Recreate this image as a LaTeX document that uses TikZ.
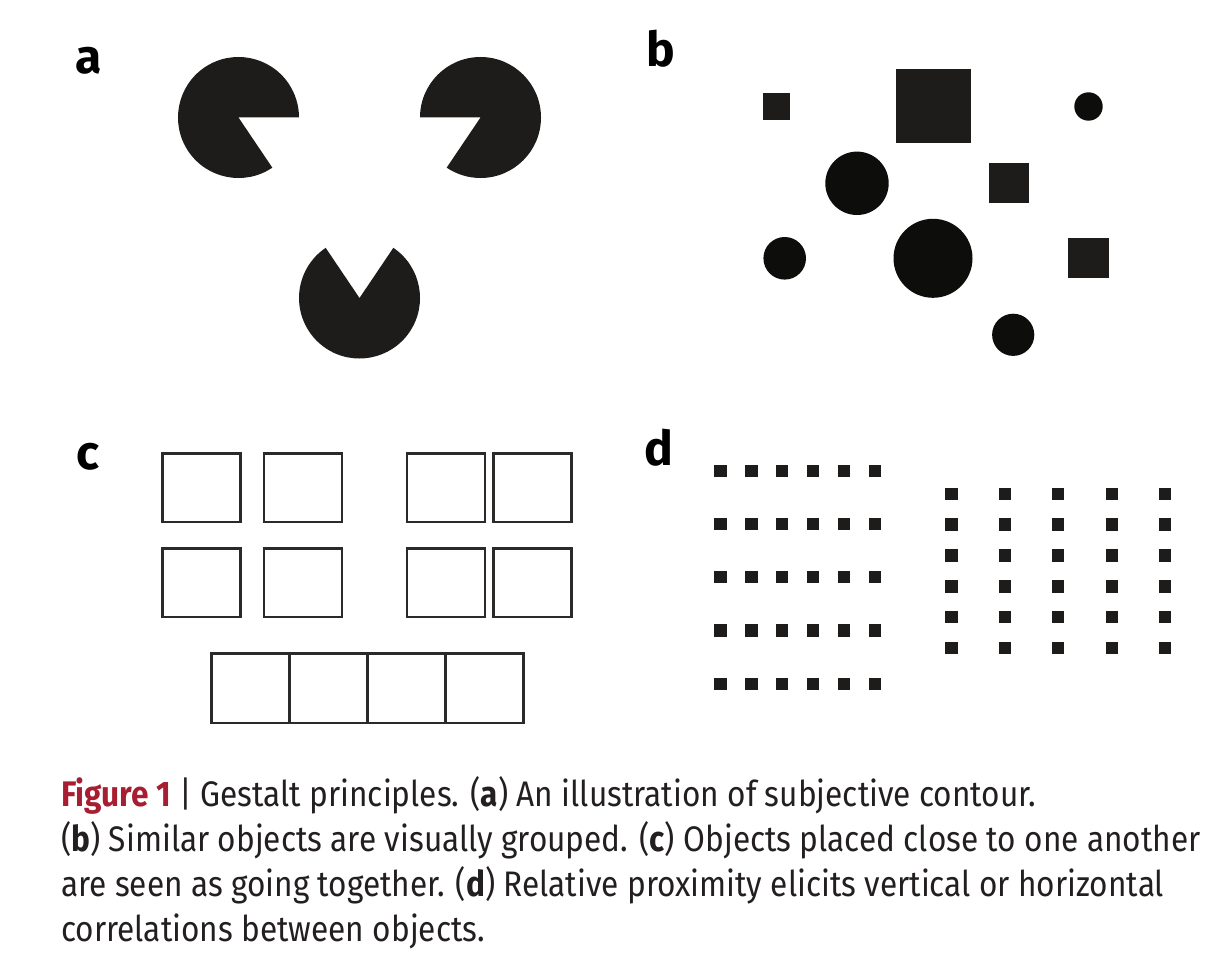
\documentclass[tikz,border=0pt]{standalone}
\usepackage{fontspec}
\setmainfont{Fira Sans}
\newfontfamily\capfont{Fira Sans}[FakeStretch=0.89]

\definecolor{ink}{HTML}{1D1C1A}
\definecolor{dotink}{HTML}{0D0E0B}
\definecolor{boxline}{HTML}{2B2A28}
\definecolor{figred}{HTML}{A71D31}
\definecolor{captext}{HTML}{231F20}

\tikzset{
  panel/.style={font=\bfseries\fontsize{48}{48}\selectfont, anchor=base west, inner sep=0pt},
  caption/.style={font=\capfont\fontsize{35.5}{45}\selectfont, text=captext, anchor=base west, inner sep=0pt},
  box/.style={draw=boxline, line width=2.6pt},
  blob/.style={fill=dotink},
  block/.style={fill=ink},
}

\begin{document}
\begin{tikzpicture}[x=1pt, y=-1pt, line join=miter]
  \useasboundingbox (0,0) rectangle (1220,979);
  \node[panel] (a) at (75,74) {a};
  \node[panel] (b) at (646,67) {b};
  \node[panel] (c) at (76,469) {c};
  \node[panel] (d) at (644,465) {d};

  \coordinate (left) at (238.5,117.5);
  \coordinate (right) at (480.5,117.5);
  \coordinate (bottom) at (359.5,298);
  \fill[block] (left) -- ++(56:60.5) arc[start angle=56, end angle=360, radius=60.5] -- cycle;
  \fill[block] (right) -- ++(180:60.5) arc[start angle=180, end angle=484, radius=60.5] -- cycle;
  \fill[block] (bottom) -- ++(304:60.5) arc[start angle=304, end angle=596, radius=60.5] -- cycle;

  \fill[block] (763.3,93.3) rectangle (790.3,120);
  \fill[block] (895.7,69.3) rectangle (970.7,143.3);
  \fill[blob] (1088.5,106.5) circle[radius=14.2];
  \fill[blob] (857,183.3) circle[radius=31.7];
  \fill[block] (988.7,163.3) rectangle (1029,203.3);
  \fill[blob] (784.7,258.3) circle[radius=21.3];
  \fill[blob] (933,258.3) circle[radius=39.5];
  \fill[block] (1068.3,238.3) rectangle (1109,278.3);
  \fill[blob] (1013.2,334.8) circle[radius=21.1];

  \foreach \x in {162.6,264,407,493.6}
    \foreach \y in {453.6,548.6}
      \draw[box] (\x,\y) rectangle ++(78,68.4);
  \foreach \x in {211.3,289.3,367.3,445.3}
    \draw[box] (\x,653.6) rectangle ++(78,69.4);

  \foreach \i in {0,...,5}
    \foreach \j in {0,...,4}
      \fill[block] ({720.5+30.9*\i-6.15},{470.7+53.3*\j-6.15}) rectangle ++(12.3,12.3);
  \foreach \i in {0,...,4}
    \foreach \j in {0,...,5}
      \fill[block] ({951.5+53.4*\i-6.15},{493.7+30.9*\j-6.15}) rectangle ++(12.3,12.3);

  \node[caption] (cap1) at (61,806) {{\color{figred}\bfseries Figure 1} | Gestalt principles. (\textbf{a}) An illustration of subjective contour.};
  \node[caption] (cap2) at (61,851) {(\textbf{b}) Similar objects are visually grouped. (\textbf{c}) Objects placed close to one another};
  \node[caption] (cap3) at (61,896.7) {are seen as going together. (\textbf{d}) Relative proximity elicits vertical or horizontal};
  \node[caption] (cap4) at (61,941.7) {correlations between objects.};
\end{tikzpicture}
\end{document}
